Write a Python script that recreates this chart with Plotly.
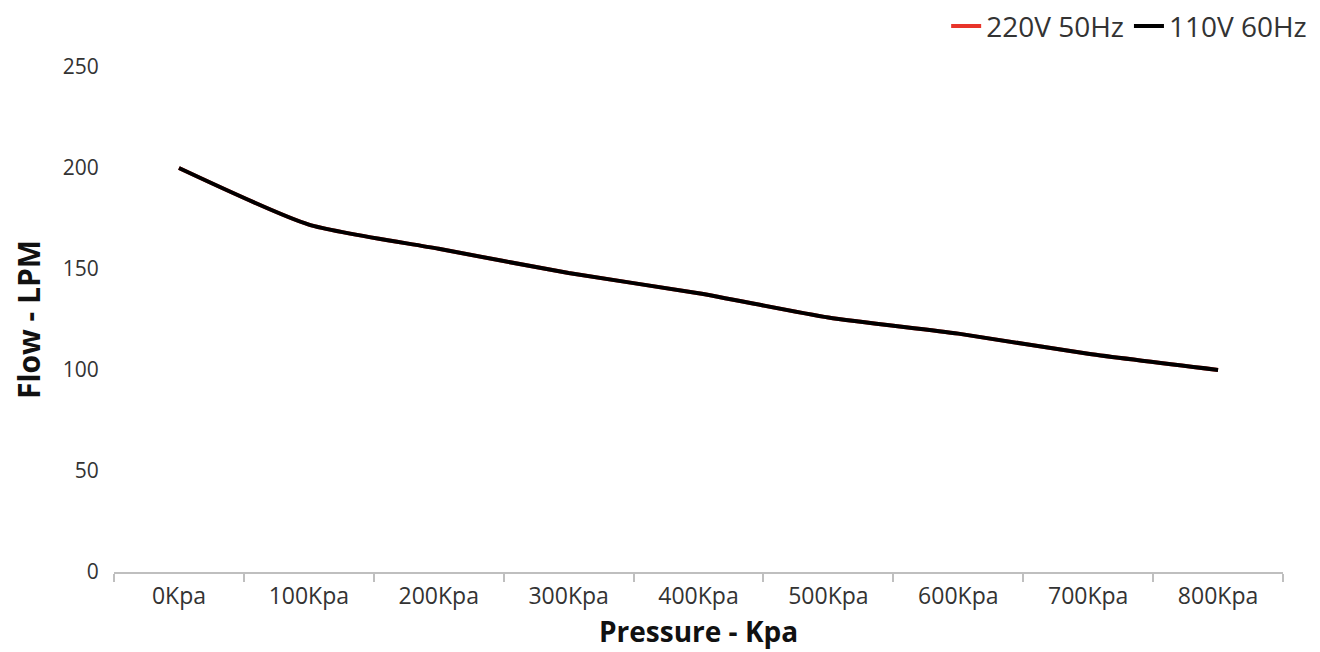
import plotly.graph_objects as go

categories = ["0Kpa", "100Kpa", "200Kpa", "300Kpa", "400Kpa", "500Kpa", "600Kpa", "700Kpa", "800Kpa"]
flow_220v_50hz = [200, 172, 160, 148, 138, 126, 118, 108, 100]
flow_110v_60hz = [200, 172, 160, 148, 138, 126, 118, 108, 100]

font_family = "Open Sans, Segoe UI, DejaVu Sans, sans-serif"

fig = go.Figure()
fig.add_trace(go.Scatter(
    x=categories, y=flow_220v_50hz, name="220V 50Hz", mode="lines",
    line=dict(color="#e8342a", width=4, shape="spline", smoothing=0.6),
))
fig.add_trace(go.Scatter(
    x=categories, y=flow_110v_60hz, name="110V 60Hz", mode="lines",
    line=dict(color="#000000", width=4, shape="spline", smoothing=0.6),
))

fig.update_layout(
    width=1320, height=652,
    margin=dict(l=106, r=45, t=59, b=88),
    plot_bgcolor="white", paper_bgcolor="white",
    font=dict(family=font_family, color="#333333", size=21),
    showlegend=True,
    legend=dict(
        orientation="h", xref="container", yref="container",
        x=0.988, xanchor="right", y=0.972, yanchor="middle",
        font=dict(size=28, color="#333333"), bgcolor="rgba(0,0,0,0)",
        itemwidth=30, traceorder="normal",
    ),
    xaxis=dict(
        type="category", range=[-0.5, 8.5], automargin=False,
        showgrid=False, showline=True, linecolor="#bfbfbf", linewidth=1.5,
        ticks="outside", tickson="boundaries", ticklen=8, tickcolor="#bfbfbf", tickwidth=1.5,
        ticklabelstandoff=3,
        tickfont=dict(size=23, color="#333333"),
        zeroline=False,
    ),
    yaxis=dict(
        range=[0, 250], tickvals=[0, 50, 100, 150, 200, 250], automargin=False,
        showgrid=False, showline=False, zeroline=False,
        ticks="outside", ticklen=10, tickcolor="rgba(0,0,0,0)",
        tickfont=dict(size=21, color="#333333"),
        title=dict(text="<b>Flow - LPM</b>", font=dict(size=30, color="#111111"), standoff=16),
    ),
    annotations=[dict(
        text="<b>Pressure - Kpa</b>", xref="paper", yref="paper",
        x=0.5, y=-0.117, xanchor="center", yanchor="middle", showarrow=False,
        font=dict(size=28, color="#111111", family=font_family),
    )],
)

fig.write_html("out.html")
